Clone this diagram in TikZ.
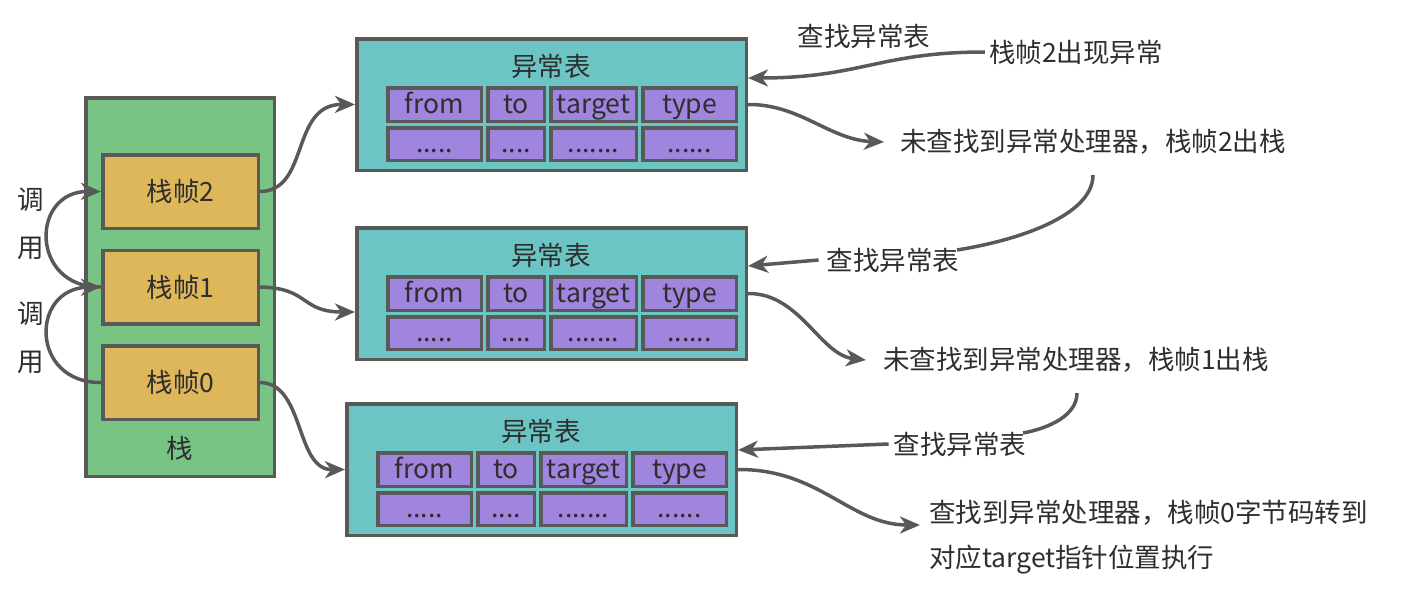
\documentclass[tikz,border=0pt]{standalone}
\usepackage{fontspec}
\setmainfont{Noto Sans CJK SC}
\usetikzlibrary{arrows.meta}
\definecolor{lc}{HTML}{595959}
\definecolor{txt}{HTML}{2E2E2E}
\definecolor{stackc}{HTML}{78C485}
\definecolor{framec}{HTML}{DFB75B}
\definecolor{tealc}{HTML}{6CC4C4}
\definecolor{cellc}{HTML}{A085DE}
\tikzset{
  lbl/.style={font=\fontsize{26.5}{30}\selectfont, text=txt, inner sep=0pt},
  box/.style={draw=lc, line width=3.5pt, inner sep=0pt},
  stackbox/.style={box, fill=stackc, minimum width=188.5pt, minimum height=378.5pt},
  framebox/.style={box, fill=framec, minimum width=155.5pt, minimum height=73.5pt, lbl},
  tabbox/.style={box, fill=tealc, minimum width=389.5pt, minimum height=131.5pt},
  cellbox/.style={box, fill=cellc, lbl, text height=21pt, text depth=4pt},
  conn/.style={draw=lc, line width=3.5pt, -{Stealth[length=20pt,width=17pt,inset=6pt]}},
  plainconn/.style={draw=lc, line width=3.5pt},
}
\newcommand\xtab[3]{%
  \begin{scope}[shift={(#2,#3)}]
    \node[tabbox] (#1) at (196.5,67.5) {};
    \node[lbl] (#1t) at (196,29) {异常表};
    \node[cellbox, minimum width=93.5pt, minimum height=33.5pt] (#1a) at (79.5,67.5) {from};
    \node[cellbox, minimum width=56.5pt, minimum height=33.5pt] (#1b) at (161,67.5) {to};
    \node[cellbox, minimum width=85.5pt, minimum height=33.5pt] (#1c) at (238.5,67.5) {target};
    \node[cellbox, minimum width=93.5pt, minimum height=33.5pt] (#1d) at (334.5,67.5) {type};
    \node[cellbox, minimum width=93.5pt, minimum height=32.5pt] (#1e) at (79.5,107) {.....};
    \node[cellbox, minimum width=56.5pt, minimum height=32.5pt] (#1f) at (161,107) {....};
    \node[cellbox, minimum width=85.5pt, minimum height=32.5pt] (#1g) at (238.5,107) {.......};
    \node[cellbox, minimum width=93.5pt, minimum height=32.5pt] (#1h) at (334.5,107) {......};
  \end{scope}}
\begin{document}
\begin{tikzpicture}[x=1pt,y=-1pt]
\useasboundingbox (0,0) rectangle (1410,597);
% stack
\node[stackbox] (stack) at (180,287) {};
\node[framebox] (s2) at (180.5,191.5) {栈帧2};
\node[framebox] (s1) at (180.5,287) {栈帧1};
\node[framebox] (s0) at (180.5,382.5) {栈帧0};
\node[lbl] (stlbl) at (180,448) {栈};
\node[lbl, align=center, font=\fontsize{26.5}{48}\selectfont] (call1) at (31,224) {调\\用};
\node[lbl, align=center, font=\fontsize{26.5}{48}\selectfont] (call2) at (31,337.5) {调\\用};
% tables
\xtab{t1}{355}{37}
\xtab{t2}{355}{226}
\xtab{t3}{345}{402}
% texts
\node[lbl] (q1) at (864,36) {查找异常表};
\node[lbl] (e2) at (1076,52) {栈帧2出现异常};
\node[lbl] (n2) at (1093,142) {未查找到异常处理器，栈帧2出栈};
\node[lbl] (q2) at (893,260) {查找异常表};
\node[lbl] (n1) at (1076,360) {未查找到异常处理器，栈帧1出栈};
\node[lbl] (q3) at (960,444) {查找异常表};
\node[lbl, anchor=west, align=left, font=\fontsize{26.5}{45}\selectfont] (f0) at (929,537.5) {查找到异常处理器，栈帧0字节码转到\\对应target指针位置执行};
% free ends
\coordinate (c2a) at (1093,175);
\coordinate (c2b) at (957,250);
\coordinate (c1a) at (1077,393);
\coordinate (c1b) at (1023,433);
% call arrows
\draw[conn] (s1.west) .. controls (30,288) and (30,191) .. (s2.west);
\draw[conn] (s0.west) .. controls (30,383) and (30,288) .. (s1.west);
% stack to tables
\draw[conn] (s2.east) .. controls (310,191) and (290,104) .. (t1.west);
\draw[conn] (s1.east) .. controls (310,288) and (300,312) .. ([yshift=-18.5pt]t2.west);
\draw[conn] (s0.east) .. controls (305,383) and (295,470) .. (t3.west);
% right side
\draw[conn] ([xshift=-4pt]e2.west) .. controls (880,52) and (860,78) .. ([yshift=26.5pt]t1.east);
\draw[conn] (t1.east) .. controls (800,104) and (830,140) .. ([xshift=-16pt]n2.west);
\draw[plainconn] (c2a) .. controls (1093,215) and (1020,240) .. (c2b);
\draw[conn] ([xshift=-8pt]q2.west) -- ([yshift=27.5pt]t2.east);
\draw[conn] (t2.east) .. controls (800,293) and (820,355) .. ([xshift=-17pt]n1.west);
\draw[plainconn] (c1a) .. controls (1077,415) and (1050,428) .. (c1b);
\draw[conn] ([xshift=-5pt]q3.west) -- ([yshift=19.5pt]t3.east);
\draw[conn] (t3.east) .. controls (820,469) and (850,525) .. ([xshift=-9pt,yshift=12.5pt]f0.west);
\end{tikzpicture}
\end{document}
